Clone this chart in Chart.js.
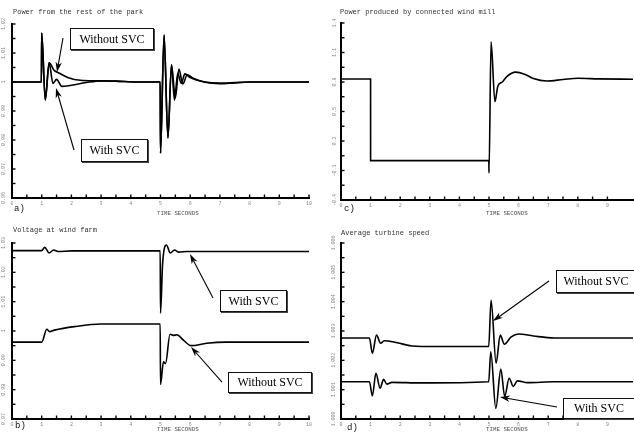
<!DOCTYPE html>
<html><head><meta charset="utf-8">
<script src="https://cdn.jsdelivr.net/npm/chart.js@4/dist/chart.umd.min.js"></script>
<style>
html,body{margin:0;padding:0;background:#fff;width:634px;height:436px;overflow:hidden;position:relative}
.pan{position:absolute;width:317px;height:218px}
canvas{display:block}
.t{position:absolute;font-family:"Liberation Mono","DejaVu Sans Mono",monospace;color:#333;white-space:nowrap;line-height:1;z-index:2}
.ttl{font-size:7px}
.ax{font-size:5.8px;color:#555}
.lab{font-size:9px;color:#111}
.box{position:absolute;z-index:3;border:1px solid #111;box-shadow:1px 1px 0 #444;background:#fff;font-family:"Liberation Serif","Times New Roman",serif;font-size:12px;color:#000;display:flex;align-items:center;justify-content:center;box-sizing:border-box;white-space:nowrap}
</style></head><body>
<div class="pan" style="left:0;top:0"><canvas id="ca" width="317" height="218"></canvas></div>
<div class="pan" style="left:317px;top:0"><canvas id="cc" width="317" height="218"></canvas></div>
<div class="pan" style="left:0;top:218px"><canvas id="cb" width="317" height="218"></canvas></div>
<div class="pan" style="left:317px;top:218px"><canvas id="cd" width="317" height="218"></canvas></div>

<div class="t ttl" style="left:13px;top:9px">Power from the rest of the park</div>
<div class="t ttl" style="left:340px;top:9px">Power produced by connected wind mill</div>
<div class="t ttl" style="left:13px;top:227px">Voltage at wind farm</div>
<div class="t ttl" style="left:341px;top:230px">Average turbine speed</div>

<div class="t ax" style="left:157px;top:211px">TIME SECONDS</div>
<div class="t ax" style="left:486px;top:211px">TIME SECONDS</div>
<div class="t ax" style="left:157px;top:427px">TIME SECONDS</div>
<div class="t ax" style="left:486px;top:427px">TIME SECONDS</div>

<div class="t lab" style="left:14px;top:205px">a)</div>
<div class="t lab" style="left:344px;top:205px">c)</div>
<div class="t lab" style="left:15px;top:422px">b)</div>
<div class="t lab" style="left:347px;top:424px">d)</div>

<div class="box" style="left:70px;top:28px;width:84px;height:22px">Without SVC</div>
<div class="box" style="left:81px;top:139px;width:67px;height:23px">With SVC</div>
<div class="box" style="left:220px;top:290px;width:67px;height:22px">With SVC</div>
<div class="box" style="left:228px;top:372px;width:84px;height:21px">Without SVC</div>
<div class="box" style="left:556px;top:270px;width:80px;height:23px">Without SVC</div>
<div class="box" style="left:563px;top:398px;width:72px;height:21px">With SVC</div>

<script>
// ---------------- data ----------------
// Panel a: Power from the rest of the park
const aTimeWithout = [0, 0.99, 1.0, 1.12, 1.25, 1.42, 1.6, 1.9, 2.3, 2.9, 3.5, 4.2, 4.99, 5.0, 5.12, 5.25, 5.37, 5.5, 5.62, 5.75, 5.9, 6.1, 6.5, 7.0, 7.5, 8.0, 10];
const aWithout     = [1, 1, 1.0169, 0.9938, 1.0066, 1.0040, 1.0030, 1.0015, 1.0006, 1.0004, 1.0003, 1.0, 1.0, 0.9755, 1.0162, 0.9807, 1.0059, 0.9945, 1.0045, 0.9993, 1.0025, 1.0013, 0.9999, 0.9994, 0.9997, 1.0, 1.0];
const aTimeWith    = [0, 0.99, 1.0, 1.12, 1.25, 1.38, 1.5, 1.68, 1.95, 2.5, 3.0, 3.5, 4.2, 4.99, 5.0, 5.12, 5.25, 5.37, 5.47, 5.58, 5.7, 5.82, 6.0, 6.5, 7.0, 8.0, 10];
const aWith        = [1, 1, 1.0169, 0.9938, 1.0066, 0.9995, 1.0009, 0.9985, 0.9988, 0.9998, 1.0004, 1.0003, 1.0, 1.0, 0.9755, 1.0162, 0.9807, 1.0059, 0.9937, 1.0030, 0.9995, 1.0028, 1.0015, 1.0, 0.9996, 1.0, 1.0];

// Panel b: Voltage at wind farm
const bTimeWith    = [0, 1.0, 1.1, 1.25, 1.4, 1.55, 2.0, 4.99, 5.0, 5.07, 5.2, 5.33, 5.47, 5.62, 5.9, 10];
const bWith        = [1.0274, 1.0274, 1.0285, 1.0266, 1.0276, 1.0271, 1.0273, 1.0273, 1.0061, 1.0228, 1.0293, 1.0266, 1.0276, 1.0269, 1.0271, 1.0271];
const bTimeWithout = [0, 1.0, 1.17, 1.27, 1.43, 2.1, 3.0, 4.99, 5.0, 5.1, 5.17, 5.32, 5.43, 5.55, 5.77, 6.03, 6.55, 7.2, 10];
const bWithout     = [0.9962, 0.9962, 1.0006, 0.9998, 1.0003, 1.0015, 1.0024, 1.0024, 0.9818, 0.9895, 0.9889, 0.9989, 0.9985, 0.9987, 0.9969, 0.9950, 0.9958, 0.9962, 0.9962];

// Panel c: Power produced by connected wind mill
const cTime  = [0, 0.999, 1.0, 4.995, 5.0, 5.07, 5.2, 5.3, 5.45, 5.6, 5.9, 6.2, 6.5, 6.95, 7.5, 8.0, 8.7, 9.87];
const cPower = [0.83, 0.83, 0.0, 0.0, -0.125, 1.21, 0.60, 0.76, 0.80, 0.855, 0.90, 0.88, 0.835, 0.81, 0.825, 0.838, 0.832, 0.828];

// Panel d: Average turbine speed
const dTimeWithout = [0, 0.96, 1.06, 1.2, 1.34, 1.46, 1.9, 2.4, 3.2, 4.99, 5.07, 5.24, 5.38, 5.52, 5.75, 6.0, 6.5, 7.2, 9.87];
const dWithout     = [1.00276, 1.00276, 1.00224, 1.00286, 1.00258, 1.00267, 1.0026, 1.00249, 1.00247, 1.00247, 1.00405, 1.0019, 1.00286, 1.00255, 1.0028, 1.0029, 1.00283, 1.00276, 1.00276];
const dTimeWith    = [0, 0.96, 1.06, 1.18, 1.32, 1.44, 1.55, 1.72, 2.7, 4.99, 5.06, 5.23, 5.4, 5.53, 5.68, 5.82, 5.96, 6.3, 7.2, 9.87];
const dWith        = [1.00127, 1.00127, 1.00079, 1.00156, 1.00105, 1.00135, 1.00119, 1.00125, 1.00123, 1.00127, 1.00229, 1.00036, 1.0017, 1.00077, 1.00139, 1.00111, 1.0013, 1.00124, 1.00127, 1.00127];

// Tick values and labels
const abXTicks  = [0,1,2,3,4,5,6,7,8,9,10];
const abXLabels = ['0','1','2','3','4','5','6','7','8','9','10'];
const cdXTicks  = [0,1,2,3,4,5,6,7,8,9];
const cdXLabels = ['0','1','2','3','4','5','6','7','8','9'];
const aYTicks  = [0.96,0.97,0.98,0.99,1,1.01,1.02];
const aYLabels = ['0.96','0.97','0.98','0.99','1','1.01','1.02'];
const bYTicks  = [0.97,0.98,0.99,1,1.01,1.02,1.03];
const bYLabels = ['0.97','0.98','0.99','1','1.01','1.02','1.03'];
const cYTicks  = [-0.4,-0.1,0.2,0.5,0.8,1.1,1.4];
const cYLabels = ['-0.4','-0.1','0.2','0.5','0.8','1.1','1.4'];
const dYTicks  = [1.000,1.001,1.002,1.003,1.004,1.005,1.006];
const dYLabels = ['1.000','1.001','1.002','1.003','1.004','1.005','1.006'];

// Annotation arrows in data units: [tailX, tailY, tipX, tipY]
const aArrows = [[1.717,1.01517,1.515,1.00345],[2.088,0.97655,1.481,0.99793]];
const bArrows = [[6.768,1.01125,5.993,1.02625],[7.07,0.98261,6.027,0.99454]];
const dArrows = [[7.027,1.0047044,5.135,1.003341],[7.297,1.000408,5.372,1.000749]];

// ---------------- helpers ----------------
function withHalves(major){
  const out=[];
  for(let i=0;i<major.length;i++){
    out.push(major[i]);
    if(i<major.length-1) out.push((major[i]+major[i+1])/2);
  }
  return out;
}
function labelFor(ticks, labels, v){
  for(let i=0;i<ticks.length;i++) if(Math.abs(ticks[i]-v)<1e-9) return labels[i];
  return '';
}
const arrowStore = {};
const decor = {
  id:'decor',
  afterDraw(chart){
    const {ctx, chartArea:ca} = chart;
    const x = chart.scales.x, y = chart.scales.y;
    ctx.save();
    ctx.strokeStyle='#000'; ctx.lineWidth=1.4;
    x.ticks.forEach(t=>{const px=x.getPixelForValue(t.value);ctx.beginPath();ctx.moveTo(px,ca.bottom);ctx.lineTo(px,ca.bottom-3.5);ctx.stroke();});
    y.ticks.forEach(t=>{const py=y.getPixelForValue(t.value);ctx.beginPath();ctx.moveTo(ca.left,py);ctx.lineTo(ca.left+3.5,py);ctx.stroke();});
    const arrows = arrowStore[chart.canvas.id] || [];
    ctx.lineWidth=1.1; ctx.fillStyle='#000';
    arrows.forEach(a=>{
      const x0=x.getPixelForValue(a[0]), y0=y.getPixelForValue(a[1]);
      const x1=x.getPixelForValue(a[2]), y1=y.getPixelForValue(a[3]);
      const ang=Math.atan2(y1-y0,x1-x0), L=10, W=3.2;
      const c=Math.cos(ang), s=Math.sin(ang);
      ctx.beginPath();ctx.moveTo(x0,y0);ctx.lineTo(x1-L*0.7*c,y1-L*0.7*s);ctx.stroke();
      ctx.beginPath();ctx.moveTo(x1,y1);
      ctx.lineTo(x1-L*c+W*s,y1-L*s-W*c);
      ctx.lineTo(x1-L*0.7*c,y1-L*0.7*s);
      ctx.lineTo(x1-L*c-W*s,y1-L*s+W*c);
      ctx.closePath();ctx.fill();
    });
    ctx.restore();
  }
};
Chart.register(decor);

const tickFont = {family:'"Liberation Mono", monospace', size:5};

function makePanel(id, cfg){
  arrowStore[id] = cfg.arrows || [];
  return new Chart(document.getElementById(id), {
    type:'line',
    data:{datasets: cfg.series.map(s=>({
      data: s.t.map((t,i)=>({x:t,y:s.v[i]})),
      borderColor:'#000', borderWidth:1.6, pointRadius:0,
      cubicInterpolationMode:'monotone', fill:false
    }))},
    options:{
      responsive:false, animation:false, events:[],
      layout:{padding:{left:0, top:cfg.top, right:cfg.right, bottom:0}},
      plugins:{legend:{display:false}, tooltip:{enabled:false}, title:{display:false}},
      scales:{
        x:{type:'linear', min:0, max:cfg.xMax,
          afterBuildTicks:s=>{s.ticks=withHalves(cfg.xTicks).filter(v=>v<=cfg.xMax).map(v=>({value:v}));},
          afterFit:s=>{s.height=cfg.xH;},
          ticks:{autoSkip:false, minRotation:0, maxRotation:0, padding:3, font:tickFont, color:'#888',
            callback:v=>labelFor(cfg.xTicks,cfg.xLabels,v)},
          grid:{display:true, drawOnChartArea:false, drawTicks:false},
          border:{display:true, color:'#000', width:2}},
        y:{type:'linear', min:cfg.yTicks[0], max:cfg.yTicks[cfg.yTicks.length-1],
          afterBuildTicks:s=>{s.ticks=withHalves(cfg.yTicks).map(v=>({value:v}));},
          afterFit:s=>{s.width=cfg.yW;},
          ticks:{autoSkip:false, minRotation:90, maxRotation:90, crossAlign:'center', padding:cfg.yPad, font:tickFont, color:'#888',
            callback:v=>labelFor(cfg.yTicks,cfg.yLabels,v)},
          grid:{display:true, drawOnChartArea:false, drawTicks:false},
          border:{display:true, color:'#000', width:2}}
      }
    }
  });
}

makePanel('ca',{series:[{t:aTimeWithout,v:aWithout},{t:aTimeWith,v:aWith}],
  top:24, right:8, xH:20, yW:12, yPad:2, xMax:10, xTicks:abXTicks, xLabels:abXLabels,
  yTicks:aYTicks, yLabels:aYLabels, arrows:aArrows});
makePanel('cb',{series:[{t:bTimeWith,v:bWith},{t:bTimeWithout,v:bWithout}],
  top:25, right:8, xH:17, yW:12, yPad:2, xMax:10, xTicks:abXTicks, xLabels:abXLabels,
  yTicks:bYTicks, yLabels:bYLabels, arrows:bArrows});
makePanel('cc',{series:[{t:cTime,v:cPower}],
  top:23, right:1, xH:18, yW:24, yPad:0, xMax:9.865, xTicks:cdXTicks, xLabels:cdXLabels,
  yTicks:cYTicks, yLabels:cYLabels, arrows:[]});
makePanel('cd',{series:[{t:dTimeWithout,v:dWithout},{t:dTimeWith,v:dWith}],
  top:25, right:1, xH:17, yW:24, yPad:0, xMax:9.865, xTicks:cdXTicks, xLabels:cdXLabels,
  yTicks:dYTicks, yLabels:dYLabels, arrows:dArrows});
</script>
</body></html>
